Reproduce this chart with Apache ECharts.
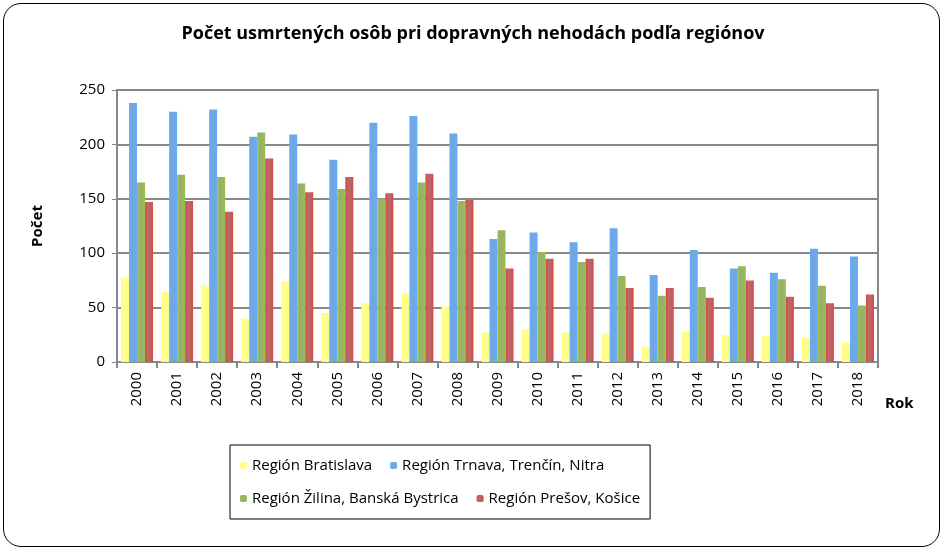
<!DOCTYPE html><html><head><meta charset="utf-8"><script src="https://cdn.jsdelivr.net/npm/echarts@6/dist/echarts.min.js"></script>
<style>html,body{margin:0;background:#fff}#b{position:absolute;left:3px;top:3px;width:937px;height:544px;border:1.5px solid #000;border-radius:18px;box-sizing:border-box}#c{position:absolute;left:0;top:0;width:947px;height:554px}</style></head><body><div id="b"></div><div id="c"></div><script>
const years=['2000','2001','2002','2003','2004','2005','2006','2007','2008','2009','2010','2011','2012','2013','2014','2015','2016','2017','2018'];
const bratislava=[78,64,70,40,74,45,54,63,51,27,30,27,26,14,28,25,24,22,18];
const trnava=[238,230,232,207,209,186,220,226,210,113,119,110,123,80,103,86,82,104,97];
const zilina=[165,172,170,211,164,159,150,165,148,121,101,92,79,61,69,88,76,70,52];
const presov=[147,148,138,187,156,170,155,173,149,86,95,95,68,68,59,75,60,54,62];
const names=['Región Bratislava','Región Trnava, Trenčín, Nitra','Región Žilina, Banská Bystrica','Región Prešov, Košice'];
const colors=['#ffff66','#4a86d0','#76933c','#a33a3a'];
const ch=echarts.init(document.getElementById('c'));
const grad=c=>new echarts.graphic.LinearGradient(0,0,1,0,[{offset:0,color:echarts.color.lift(c,-0.3)},{offset:0.45,color:echarts.color.lift(c,0.25)},{offset:1,color:echarts.color.lift(c,-0.3)}]);
ch.setOption({
 title:{text:'Počet usmrtených osôb pri dopravných nehodách podľa regiónov',left:468,top:20,textAlign:'center',textStyle:{fontFamily:'Open Sans',fontSize:18,fontWeight:'bold',color:'#000'}},
 grid:{left:117,right:69,top:90,bottom:192},
 legend:{left:230,top:445,width:530,itemWidth:7,itemHeight:7,itemGap:18,padding:[13,10,13,10],borderColor:'#000',borderWidth:1,
   textStyle:{fontFamily:'Open Sans',fontSize:15,color:'#000',width:240},data:names},
 xAxis:{type:'category',data:years,
   axisLine:{lineStyle:{color:'#888',width:2}},axisTick:{show:true,lineStyle:{color:'#888',width:2},length:6},
   axisLabel:{rotate:90,fontFamily:'Open Sans',fontSize:15,color:'#000',margin:10}},
 yAxis:{type:'value',min:0,max:250,interval:50,name:'Počet',nameLocation:'middle',nameGap:72,
   nameTextStyle:{fontFamily:'Open Sans',fontWeight:'bold',fontSize:15,color:'#000'},
   axisLine:{show:true,lineStyle:{color:'#888',width:2}},axisTick:{show:true,lineStyle:{color:'#888'}},
   axisLabel:{fontFamily:'Open Sans',fontSize:15,color:'#000',margin:12},
   splitLine:{lineStyle:{color:'#888',width:2}}},
 series:[bratislava,trnava,zilina,presov].map((d,i)=>({name:names[i],type:'bar',data:d,barWidth:8,barGap:'0%',barCategoryGap:'15%',
   itemStyle:{color:grad(colors[i])},legendIcon:'rect'})),
 color:colors,
 graphic:[{type:'rect',shape:{x:117,y:90,width:761,height:272},style:{fill:'none',stroke:'#888',lineWidth:2},silent:true},
   {type:'text',left:885,top:396,style:{text:'Rok',font:'bold 15px "Open Sans"',fill:'#000'}}]
});
</script></body></html>
